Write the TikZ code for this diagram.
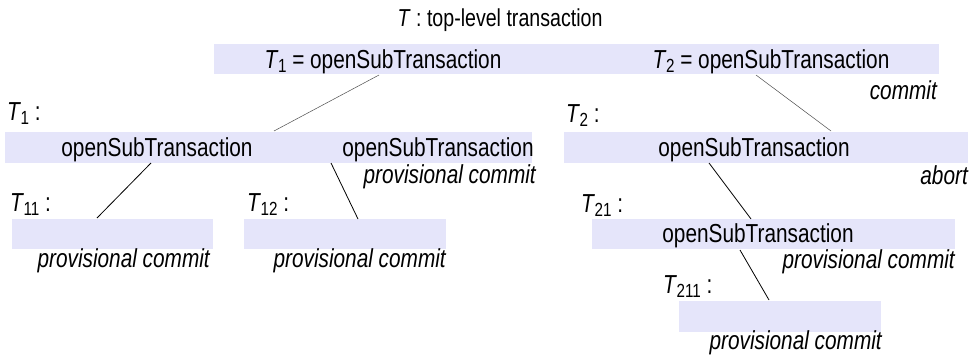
\documentclass[tikz,border=0pt]{standalone}
\usepackage{fontspec}
\setmainfont{Liberation Sans}[FakeStretch=0.8]
\newcommand\Tn[1]{\textit{T}\kern-0.02em\raisebox{-0.3ex}{\fontsize{19}{19}\selectfont #1}}
\definecolor{barfill}{RGB}{229,229,250}
\begin{document}
\begin{tikzpicture}[x=1pt,y=-1pt,
  bar/.style={fill=barfill,draw=none},
  txt/.style={inner sep=0pt,font=\fontsize{26}{30}\selectfont},
  itx/.style={txt,font=\fontsize{26}{30}\selectfont\itshape},
  thin link/.style={draw=black!70,line width=0.5pt},
  link/.style={draw=black,line width=0.8pt}]
\useasboundingbox (0,0) rectangle (977,356);
% bars
\path[bar] (214,44) rectangle (939,74);
\path[bar] (5,132) rectangle (532,163);
\path[bar] (564,132) rectangle (968,163);
\path[bar] (12,219) rectangle (213,249);
\path[bar] (244,219) rectangle (446,249);
\path[bar] (592,219) rectangle (955,249);
\path[bar] (679,301) rectangle (881,332);
% texts
\node[txt,anchor=base,font=\fontsize{24.5}{28}\selectfont] (top) at (500,27) {\textit{T} : top-level transaction};
\node[txt,anchor=base] (t1open) at (383,68) {\Tn{1} = openSubTransaction};
\node[txt,anchor=base] (t2open) at (771,68) {\Tn{2} = openSubTransaction};
\node[itx,anchor=base east] (t2commit) at (937,99) {commit};
\node[txt,anchor=base west] (t1lab) at (7,120) {\Tn{1} :};
\node[txt,anchor=base] (t1o1) at (157,156) {openSubTransaction};
\node[txt,anchor=base] (t1o2) at (438,156) {openSubTransaction};
\node[itx,anchor=base east] (t12pc) at (536,183) {provisional commit};
\node[txt,anchor=base west] (t11lab) at (10,211) {\Tn{11} :};
\node[txt,anchor=base west] (t12lab) at (247,211) {\Tn{12} :};
\node[itx,anchor=base east] (t11pc) at (210,267) {provisional commit};
\node[itx,anchor=base east] (t12pcb) at (446,267) {provisional commit};
\node[txt,anchor=base west] (t2lab) at (566,122) {\Tn{2} :};
\node[txt,anchor=base] (t2o) at (754,156) {openSubTransaction};
\node[itx,anchor=base east] (t2abort) at (968,184) {abort};
\node[txt,anchor=base west] (t21lab) at (581,212) {\Tn{21} :};
\node[txt,anchor=base] (t21o) at (758,242) {openSubTransaction};
\node[itx,anchor=base east] (t21pc) at (955,268) {provisional commit};
\node[txt,anchor=base west] (t211lab) at (663,293) {\Tn{211} :};
\node[itx,anchor=base east] (t211pc) at (882,349) {provisional commit};
% connector ends
\coordinate (a1) at (379,75);  \coordinate (b1) at (274,131);
\coordinate (a2) at (756,75);  \coordinate (b2) at (831,131);
\coordinate (a3) at (151,163); \coordinate (b3) at (97,218);
\coordinate (a4) at (331,163); \coordinate (b4) at (358,219);
\coordinate (a5) at (709,163); \coordinate (b5) at (751,219);
\coordinate (a6) at (740,250); \coordinate (b6) at (769,300);
\draw[thin link] (a1) -- (b1);
\draw[thin link] (a2) -- (b2);
\draw[link] (a3) -- (b3);
\draw[link] (a4) -- (b4);
\draw[link] (a5) -- (b5);
\draw[link] (a6) -- (b6);
\end{tikzpicture}
\end{document}
